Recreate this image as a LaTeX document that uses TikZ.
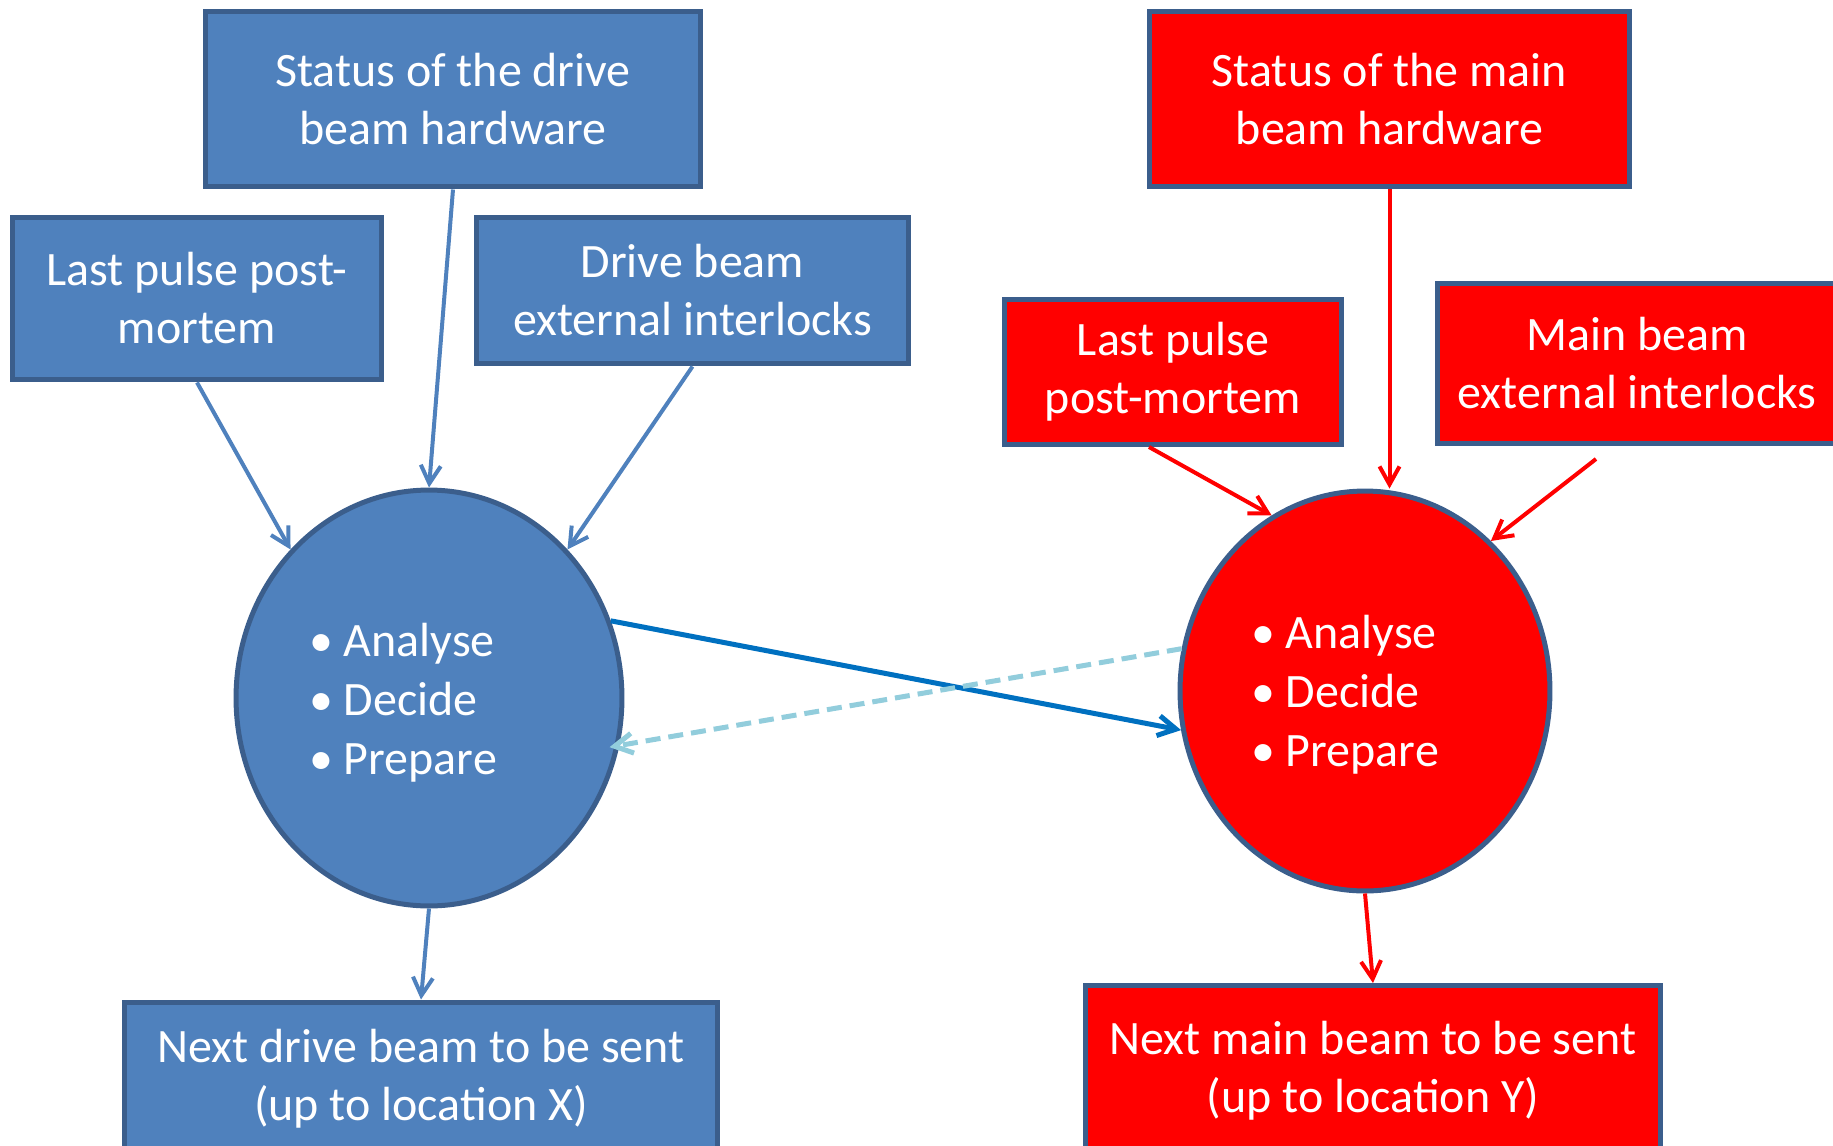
\documentclass[tikz,border=0pt]{standalone}
\usepackage{fontspec}
\setmainfont{Carlito}
\usetikzlibrary{arrows.meta,positioning,shapes.geometric}
\definecolor{drivefill}{HTML}{4F81BD}
\definecolor{edgeblue}{HTML}{3B5E8C}
\definecolor{mainred}{HTML}{FF0000}
\definecolor{linkblue}{HTML}{0070C0}
\definecolor{backblue}{HTML}{92CDDC}
\tikzset{box/.style={draw=edgeblue,line width=0.1cm,text=white,align=center,
 inner sep=0pt,font=\fontsize{27.3}{33}\selectfont},dbox/.style={box,fill=drivefill},
 mbox/.style={box,fill=mainred},
 ell/.style={ellipse,draw=edgeblue,line width=0.1cm,inner sep=0pt},
 items/.style={text=white,align=left,font=\fontsize{27.3}{33.5}\selectfont},
 arr/.style={-{Straight Barb[length=0.36cm,width=0.4cm]},line width=0.08cm}}

\begin{document}
\begin{tikzpicture}[x=0.02cm,y=-0.02cm]
\useasboundingbox (0,0) rectangle (1833,1146);
% drive beam side
\node[dbox,minimum width=9.92cm,minimum height=3.52cm] (sdrive) at (453,99) {Status of the drive\\beam hardware};
\node[dbox,minimum width=7.4cm,minimum height=3.26cm] (lpdrive) at (197,298.5) {Last pulse post-\\mortem};
\node[dbox,minimum width=8.66cm,minimum height=2.94cm] (eidrive) at (692.5,290.5) {Drive beam\\external interlocks};
\node[ell,fill=drivefill,minimum width=7.72cm,minimum height=8.32cm] (edrive) at (429,698) {};
\node[items] (tdrive) at (403,703) {\textbullet\ Analyse\\\textbullet\ Decide\\\textbullet\ Prepare};
\node[dbox,minimum width=11.88cm,minimum height=3.08cm] (ndrive) at (421,1079) {Next drive beam to be sent\\(up to location X)};
% main beam side
\node[mbox,minimum width=9.62cm,minimum height=3.52cm] (smain) at (1389.5,99) {Status of the main\\beam hardware};
\node[mbox,minimum width=6.76cm,minimum height=2.9cm] (lpmain) at (1173,372) {Last pulse\\post-mortem};
\node[mbox,minimum width=8.0cm,minimum height=3.22cm] (eimain) at (1637,363.5) {Main beam\\external interlocks};
\node[ell,fill=mainred,minimum width=7.4cm,minimum height=8.0cm] (emain) at (1365,691) {};
\node[items] (tmain) at (1345,695) {\textbullet\ Analyse\\\textbullet\ Decide\\\textbullet\ Prepare};
\node[mbox,minimum width=11.52cm,minimum height=3.42cm] (nmain) at (1373,1071) {Next main beam to be sent\\(up to location Y)};
\coordinate (mtail) at (1596,459);
% inputs and outputs
\foreach \a/\b in {sdrive.south/edrive.north,lpdrive.south/edrive.133,eidrive.south/edrive.47,edrive.south/ndrive.north}
 {\draw[arr,drivefill] (\a)--(\b);}
\draw[arr,mainred] (smain.south)--(smain.south |- emain.north);
\draw[arr,mainred] ([xshift=-0.48cm]lpmain.south)--(emain.118);
\draw[arr,mainred] (mtail)--(emain.50);
\draw[arr,mainred] (emain.south)--(nmain.north);
% links between the two sides
\draw[arr,linkblue,line width=0.1cm] (edrive.23)--(emain.192);
\draw[arr,backblue,line width=0.1cm,dash pattern=on 0.3cm off 0.16cm,shorten >=-0.2cm] (emain.167)--(edrive.346);
\end{tikzpicture}
\end{document}
